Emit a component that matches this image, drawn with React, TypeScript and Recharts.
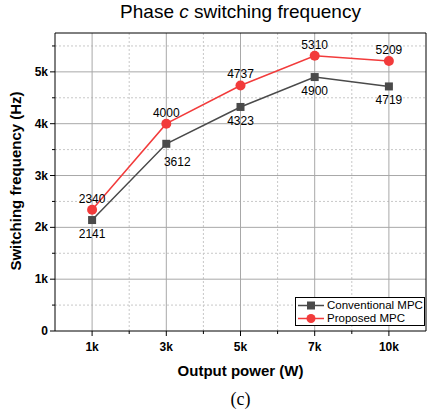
import React from 'react';
import { LineChart, Line, XAxis, YAxis, ReferenceLine, LabelList } from 'recharts';

const categories = ['1k', '3k', '5k', '7k', '10k'];
const conventional = [2141, 3612, 4323, 4900, 4719];
const proposed = [2340, 4000, 4737, 5310, 5209];

const yTicks = [0, 500, 1000, 1500, 2000, 2500, 3000, 3500, 4000, 4500, 5000, 5500];
const yMajor = [1000, 2000, 3000, 4000, 5000];
const yMinor = [500, 1500, 2500, 3500, 4500, 5500];
const xTicks = [0, 0.5, 1, 1.5, 2, 2.5, 3, 3.5, 4];
const xMajor = [0, 1, 2, 3, 4];
const xMinor = [0.5, 1.5, 2.5, 3.5];

const RED = '#f23b3b';
const GRAY = '#4a4a4a';
const FONT = '"Liberation Sans", Arial, sans-serif';

const data = categories.map((c, i) => ({
  idx: i,
  cat: c,
  conv: conventional[i],
  prop: proposed[i],
}));

const yLabel = (v: number) => (v === 0 ? '0' : `${v / 1000}k`);

const YTick = (props: any) => {
  const { x, y, payload } = props;
  const major = payload.value % 1000 === 0;
  return (
    <g>
      <line x1={x - (major ? 5 : 3)} x2={x} y1={y} y2={y} stroke="#000" />
      {major && (
        <text x={x - 7} y={y} dy={4} textAnchor="end" fontSize={12} fontWeight="bold" fill="#000" fontFamily={FONT}>
          {yLabel(payload.value)}
        </text>
      )}
    </g>
  );
};

const XTick = (props: any) => {
  const { x, y, payload } = props;
  const major = Number.isInteger(payload.value);
  return (
    <g>
      <line x1={x} x2={x} y1={y} y2={y + (major ? 5 : 3)} stroke="#000" />
      {major && (
        <text x={x} y={y + 20} textAnchor="middle" fontSize={12} fontWeight="bold" fill="#000" fontFamily={FONT}>
          {categories[payload.value]}
        </text>
      )}
    </g>
  );
};

const SquareDot = (props: any) => {
  const { cx, cy, index } = props;
  return <rect key={`sq-${index}`} x={cx - 4} y={cy - 4} width={8} height={8} fill={GRAY} />;
};

const CircleDot = (props: any) => {
  const { cx, cy, index } = props;
  return <circle key={`ci-${index}`} cx={cx} cy={cy} r={5} fill={RED} />;
};

// the 3k label of the conventional curve sits off to the right, clear of the line
const ConvLabel = (props: any) => {
  const { x, y, value, index } = props;
  const dx = index === 1 ? 11 : 0;
  const dy = index === 1 ? 4 : 0;
  return (
    <text x={x + dx} y={y + 18 + dy} textAnchor="middle" fontSize={12} fill="#000" fontFamily={FONT}>
      {value}
    </text>
  );
};

export default function App() {
  return (
    <div style={{ position: 'fixed', left: 0, top: 0, width: 429, height: 413, background: '#fff', fontFamily: FONT }}>
      <div style={{ position: 'absolute', left: 55, width: 371, top: 1, textAlign: 'center', fontSize: 19, color: '#000' }}>
        Phase <i>c</i> switching frequency
      </div>
      <LineChart width={429} height={413} data={data} margin={{ top: 33, right: 3, bottom: 62, left: 0 }}>
        {yMinor.map((v) => (
          <ReferenceLine key={`ym${v}`} y={v} stroke="#c8c8c8" strokeDasharray="2 2" />
        ))}
        {xMinor.map((v) => (
          <ReferenceLine key={`xm${v}`} x={v} stroke="#c8c8c8" strokeDasharray="2 2" />
        ))}
        {yMajor.map((v) => (
          <ReferenceLine key={`yM${v}`} y={v} stroke="#a8a8a8" />
        ))}
        {xMajor.map((v) => (
          <ReferenceLine key={`xM${v}`} x={v} stroke="#a8a8a8" />
        ))}
        <ReferenceLine y={5750} stroke="#000" />
        <ReferenceLine x={4.5} stroke="#000" />
        <XAxis
          dataKey="idx"
          type="number"
          domain={[-0.5, 4.5]}
          ticks={xTicks}
          interval={0}
          tickSize={0}
          tickMargin={0}
          tickLine={false}
          axisLine={{ stroke: '#000' }}
          tick={<XTick />}
          height={20}
        />
        <YAxis
          type="number"
          domain={[0, 5750]}
          ticks={yTicks}
          interval={0}
          tickSize={0}
          tickMargin={0}
          tickLine={false}
          axisLine={{ stroke: '#000' }}
          tick={<YTick />}
          width={55}
        />
        <Line
          dataKey="conv"
          stroke={GRAY}
          strokeWidth={1.5}
          dot={<SquareDot />}
          isAnimationActive={false}
        >
          <LabelList dataKey="conv" content={<ConvLabel />} />
        </Line>
        <Line
          dataKey="prop"
          stroke={RED}
          strokeWidth={1.5}
          dot={<CircleDot />}
          isAnimationActive={false}
        >
          <LabelList dataKey="prop" position="top" offset={7} fontSize={12} fill="#000" fontFamily={FONT} />
        </Line>
      </LineChart>
      <div
        style={{
          position: 'absolute',
          left: 15,
          top: 181,
          transform: 'translate(-50%, -50%) rotate(-90deg)',
          whiteSpace: 'nowrap',
          fontSize: 15,
          fontWeight: 'bold',
          color: '#000',
        }}
      >
        Switching frequency (Hz)
      </div>
      <div style={{ position: 'absolute', left: 55, width: 371, top: 362, textAlign: 'center', fontSize: 15, fontWeight: 'bold', color: '#000' }}>
        Output power (W)
      </div>
      <div style={{ position: 'absolute', left: 55, width: 371, top: 389, textAlign: 'center', fontSize: 18, fontFamily: '"Liberation Serif", serif', color: '#000' }}>
        (c)
      </div>
      <div
        style={{
          position: 'absolute',
          left: 295,
          top: 297,
          width: 130,
          height: 29,
          border: '1px solid #000',
          background: '#fff',
          boxSizing: 'border-box',
          fontSize: 11.5,
          color: '#000',
          padding: '1px 0 0 2px',
          lineHeight: '13px',
          whiteSpace: 'nowrap',
        }}
      >
        <div style={{ display: 'flex', alignItems: 'center' }}>
          <svg width={26} height={13}>
            <line x1={0} x2={26} y1={6.5} y2={6.5} stroke={GRAY} strokeWidth={1.5} />
            <rect x={9} y={2.5} width={8} height={8} fill={GRAY} />
          </svg>
          <span style={{ marginLeft: 3 }}>Conventional MPC</span>
        </div>
        <div style={{ display: 'flex', alignItems: 'center' }}>
          <svg width={26} height={13}>
            <line x1={0} x2={26} y1={6.5} y2={6.5} stroke={RED} strokeWidth={1.5} />
            <circle cx={13} cy={6.5} r={4.5} fill={RED} />
          </svg>
          <span style={{ marginLeft: 3 }}>Proposed MPC</span>
        </div>
      </div>
    </div>
  );
}
